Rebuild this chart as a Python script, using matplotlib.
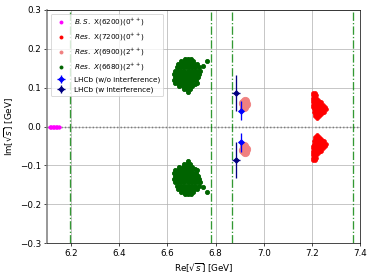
"""
Pole positions of the di-charmonium states in the complex sqrt(s) plane,
compared with the LHCb X(6900) parameters.
"""

import matplotlib.pyplot as plt

# Upper-half-plane poles (the lower ones are the complex conjugates)
bs_re = [6.112, 6.118, 6.124, 6.130, 6.136, 6.142, 6.148]
bs_im = [0.0, 0.0, 0.0, 0.0, 0.0, 0.0, 0.0]

x7200_re = [7.205, 7.212,
            7.203, 7.210, 7.216,
            7.204, 7.211, 7.218,
            7.205, 7.212, 7.219, 7.226,
            7.204, 7.211, 7.218, 7.225, 7.232, 7.240,
            7.203, 7.210, 7.217, 7.224, 7.231, 7.238, 7.246,
            7.205, 7.212, 7.219, 7.226, 7.233, 7.240, 7.248, 7.255,
            7.207, 7.214, 7.221, 7.228, 7.235, 7.242, 7.250, 7.257,
            7.210, 7.217, 7.224, 7.231, 7.238, 7.245, 7.252,
            7.212, 7.219, 7.226, 7.233, 7.240,
            7.214, 7.221, 7.228,
            7.220]
x7200_im = [0.086, 0.086,
            0.080, 0.080, 0.080,
            0.074, 0.074, 0.074,
            0.068, 0.068, 0.068, 0.068,
            0.062, 0.062, 0.062, 0.062, 0.062, 0.062,
            0.056, 0.056, 0.056, 0.056, 0.056, 0.056, 0.056,
            0.050, 0.050, 0.050, 0.050, 0.050, 0.050, 0.050, 0.050,
            0.044, 0.044, 0.044, 0.044, 0.044, 0.044, 0.044, 0.044,
            0.038, 0.038, 0.038, 0.038, 0.038, 0.038, 0.038,
            0.032, 0.032, 0.032, 0.032, 0.032,
            0.026, 0.026, 0.026,
            0.021]

x6900_re = [6.912, 6.926, 6.918, 6.921]
x6900_im = [0.060, 0.058, 0.051, 0.065]

x6680_re = [6.672, 6.685, 6.698,
            6.655, 6.668, 6.681, 6.694, 6.707, 6.764,
            6.645, 6.658, 6.671, 6.684, 6.697, 6.710, 6.723, 6.748,
            6.638, 6.651, 6.664, 6.677, 6.690, 6.703, 6.716, 6.731,
            6.632, 6.645, 6.658, 6.671, 6.684, 6.697, 6.710, 6.723, 6.736,
            6.629, 6.642, 6.655, 6.668, 6.681, 6.694, 6.707, 6.720, 6.731,
            6.630, 6.643, 6.656, 6.669, 6.682, 6.695, 6.708, 6.721, 6.728,
            6.628, 6.641, 6.654, 6.667, 6.680, 6.693, 6.706, 6.719,
            6.633, 6.646, 6.659, 6.672, 6.685, 6.698, 6.713, 6.722,
            6.650, 6.663, 6.676, 6.689, 6.702,
            6.668, 6.681, 6.694,
            6.684]
x6680_im = [0.175, 0.175, 0.175,
            0.168, 0.168, 0.168, 0.168, 0.168, 0.168,
            0.160, 0.160, 0.160, 0.160, 0.160, 0.160, 0.160, 0.157,
            0.152, 0.152, 0.152, 0.152, 0.152, 0.152, 0.152, 0.152,
            0.144, 0.144, 0.144, 0.144, 0.144, 0.144, 0.144, 0.144, 0.144,
            0.136, 0.136, 0.136, 0.136, 0.136, 0.136, 0.136, 0.136, 0.136,
            0.128, 0.128, 0.128, 0.128, 0.128, 0.128, 0.128, 0.128, 0.128,
            0.120, 0.120, 0.120, 0.120, 0.120, 0.120, 0.120, 0.120,
            0.112, 0.112, 0.112, 0.112, 0.112, 0.112, 0.110, 0.112,
            0.104, 0.104, 0.104, 0.104, 0.104,
            0.096, 0.096, 0.096,
            0.090]

# LHCb: mass and Gamma/2, with errors
lhcb_labels = ['LHCb (w/o interference)', 'LHCb (w interference)']
lhcb_colors = ['blue', 'navy']
lhcb_re = [6.905, 6.886]
lhcb_re_err = [0.013, 0.017]
lhcb_im = [0.041, 0.086]
lhcb_im_err = [0.025, 0.047]

# two-meson thresholds (J/psi J/psi, J/psi psi(2S), J/psi psi(3770), psi(2S) psi(2S))
thresholds = [6.194, 6.783, 6.870, 7.372]

fig = plt.figure(figsize=(374 / 63, 277 / 63), dpi=63)
ax = fig.add_axes([0.1257, 0.1227, 0.8369, 0.8412])

ax.grid(True, color='#b0b0b0', lw=1.0, alpha=0.8, zorder=0)
ax.axhline(0, color='k', ls=':', lw=1.5, zorder=1)
for th in thresholds:
    ax.axvline(th, color='green', ls='-.', lw=1.5, alpha=0.8, zorder=2)


def conj(vals):
    return list(vals) + [-v for v in vals]


ax.scatter(bs_re + bs_re, conj(bs_im), s=12, color='magenta', zorder=3,
           label=r'$B.S.$ X(6200)$(0^{++})$')
ax.scatter(x7200_re + x7200_re, conj(x7200_im), s=18, color='red', zorder=3,
           label=r'$Res.$ X(7200)$(0^{++})$')
ax.scatter(x6900_re + x6900_re, conj(x6900_im), s=90, color='lightcoral', zorder=3,
           label=r'$Res.$ $X$(6900)$(2^{++})$')
ax.scatter(x6680_re + x6680_re, conj(x6680_im), s=22, color='darkgreen', zorder=3,
           label=r'$Res.$ $X$(6680)$(2^{++})$')

for i in range(len(lhcb_re)):
    ax.errorbar([lhcb_re[i], lhcb_re[i]], [lhcb_im[i], -lhcb_im[i]],
                xerr=lhcb_re_err[i], yerr=lhcb_im_err[i], fmt='D',
                ms=4.5, color=lhcb_colors[i], lw=1.5, zorder=4,
                label=lhcb_labels[i])

ax.set_xlim(6.1, 7.4)
ax.set_ylim(-0.3, 0.3)
ax.set_xticks([6.2, 6.4, 6.6, 6.8, 7.0, 7.2, 7.4])
ax.set_yticks([-0.3, -0.2, -0.1, 0.0, 0.1, 0.2, 0.3])
ax.set_xlabel(r'Re[$\sqrt{s}$] [GeV]')
ax.set_ylabel(r'Im[$\sqrt{s}$] [GeV]')
ax.spines['left'].set_color('gray')
ax.spines['left'].set_linewidth(1.8)

leg = ax.legend(loc='upper left', fontsize='small', scatterpoints=1, framealpha=0.8)
for h in leg.legend_handles[:4]:
    h.set_sizes([12])

plt.savefig('out.png', dpi=63)
